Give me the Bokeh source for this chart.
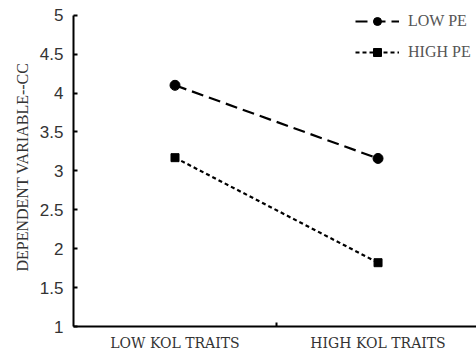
from bokeh.plotting import figure
from bokeh.models import Range1d, FixedTicker, Legend, LegendItem
from bokeh.embed import file_html
from bokeh.resources import INLINE

categories = ["LOW KOL TRAITS", "HIGH KOL TRAITS"]
x_pos = [0.5, 1.5]
low_pe = [4.1, 3.16]
high_pe = [3.17, 1.82]
y_ticks = [1, 1.5, 2, 2.5, 3, 3.5, 4, 4.5, 5]

p = figure(width=476, height=356, output_backend="svg", toolbar_location=None,
           x_range=Range1d(0, 1.985), y_range=Range1d(1, 5.1),
           min_border_left=73, min_border_right=0, min_border_top=7, min_border_bottom=30)
p.outline_line_color = None
p.xgrid.visible = False
p.ygrid.visible = False
p.background_fill_color = "white"

r1l = p.line(x_pos, low_pe, line_color="black", line_width=2.2, line_dash="12 6")
r1m = p.scatter(x_pos, low_pe, marker="circle", size=10, color="black")
r2l = p.line(x_pos, high_pe, line_color="black", line_width=2.2, line_dash="4 3")
r2m = p.scatter(x_pos, high_pe, marker="square", size=8, color="black")

legend = Legend(items=[LegendItem(label="LOW PE", renderers=[r1l, r1m]),
                       LegendItem(label="HIGH PE", renderers=[r2l, r2m])],
                location=(282, 264))
legend.border_line_color = None
legend.background_fill_alpha = 0
legend.label_text_font = "Liberation Serif"
legend.label_text_font_size = "16px"
legend.label_text_color = "#555555"
legend.glyph_width = 44
legend.glyph_height = 20
legend.label_height = 20
legend.spacing = 11
legend.padding = 0
legend.margin = 0
legend.label_standoff = 9
p.add_layout(legend)

# y axis
p.yaxis.bounds = (1, 5)
p.yaxis.ticker = FixedTicker(ticks=y_ticks)
p.yaxis.major_label_overrides = {t: ("%g" % t) for t in y_ticks}
p.yaxis.major_tick_in = 4
p.yaxis.major_tick_out = 0
p.yaxis.minor_tick_line_color = None
p.yaxis.axis_line_width = 2
p.yaxis.major_tick_line_width = 2
p.yaxis.major_label_text_font = "Liberation Sans"
p.yaxis.major_label_text_font_size = "17px"
p.yaxis.major_label_text_color = "#333333"
p.yaxis.major_label_standoff = 10
p.yaxis.axis_label = "DEPENDENT VARIABLE--CC"
p.yaxis.axis_label_text_font = "Liberation Serif"
p.yaxis.axis_label_text_font_style = "normal"
p.yaxis.axis_label_text_font_size = "16px"
p.yaxis.axis_label_text_color = "#333333"
p.yaxis.axis_label_standoff = 6

# x axis
p.xaxis.ticker = FixedTicker(ticks=x_pos, minor_ticks=[1])
p.xaxis.major_label_overrides = {x: c for x, c in zip(x_pos, categories)}
p.xaxis.major_tick_in = 0
p.xaxis.major_tick_out = 0
p.xaxis.minor_tick_in = 4
p.xaxis.minor_tick_out = 0
p.xaxis.minor_tick_line_width = 2
p.xaxis.minor_tick_line_color = "black"
p.xaxis.axis_line_width = 2
p.xaxis.major_label_text_font = "DejaVu Serif"
p.xaxis.major_label_text_font_size = "14px"
p.xaxis.major_label_text_color = "#333333"
p.xaxis.major_label_standoff = 8

open("out.html", "w").write(file_html(p, INLINE))
